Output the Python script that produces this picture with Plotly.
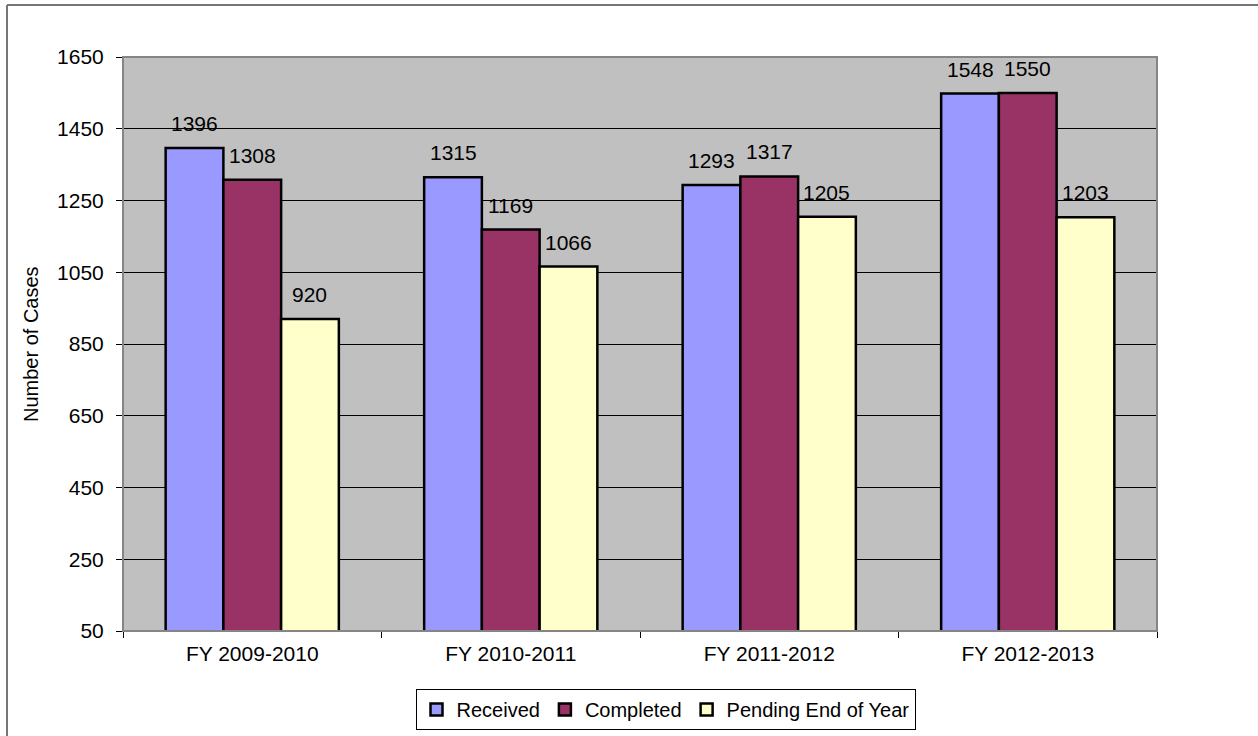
import plotly.graph_objects as go

# Caseload by fiscal year
years = ["FY 2009-2010", "FY 2010-2011", "FY 2011-2012", "FY 2012-2013"]
received = [1396, 1315, 1293, 1548]
completed = [1308, 1169, 1317, 1550]
pending = [920, 1066, 1205, 1203]

series = [
    ("Received", received, "#9999FF"),
    ("Completed", completed, "#993366"),
    ("Pending End of Year", pending, "#FFFFCC"),
]

y_ticks = [50, 250, 450, 650, 850, 1050, 1250, 1450, 1650]

FONT = "Liberation Sans, Arial, sans-serif"
FS = 21

W, H = 1258, 736
L, R, T, B = 123, 101, 57, 105
pw, ph = W - L - R, H - T - B


def px_x(p):
    return (p - L) / pw


def px_y(p):
    return (H - B - p) / ph


fig = go.Figure()
for name, vals, color in series:
    fig.add_trace(go.Bar(
        name=name, x=years, y=vals,
        marker=dict(color=color, line=dict(color="black", width=2.5)),
    ))

# value labels above each bar
bar_px = pw / len(years) * (1 - 0.33) / 3
annotations = []
for k, (name, vals, color) in enumerate(series):
    for cat, v in zip(years, vals):
        annotations.append(dict(
            x=cat, y=v, xref="x", yref="y", text=str(v), showarrow=False,
            xshift=(k - 1) * bar_px, yshift=11, yanchor="bottom",
            font=dict(family=FONT, size=FS, color="black"),
        ))

annotations.append(dict(
    x=px_x(31), y=0.5, xref="paper", yref="paper", text="Number of Cases",
    textangle=-90, showarrow=False, xanchor="center", yanchor="middle",
    font=dict(family=FONT, size=20, color="black"),
))

shapes = [
    # outer frame
    dict(type="line", xref="paper", yref="paper", x0=px_x(7), x1=px_x(7),
         y0=px_y(5), y1=px_y(H + 10), line=dict(color="#767676", width=2)),
    dict(type="line", xref="paper", yref="paper", x0=px_x(7), x1=px_x(W + 10),
         y0=px_y(5), y1=px_y(5), line=dict(color="#767676", width=2)),
    # plot area border
    dict(type="rect", xref="paper", yref="paper", x0=0, x1=1, y0=0, y1=1,
         line=dict(color="#858585", width=2), layer="above"),
]

fig.update_layout(
    width=W, height=H,
    margin=dict(l=L, r=R, t=T, b=B, autoexpand=False),
    paper_bgcolor="white",
    plot_bgcolor="#C0C0C0",
    barmode="group",
    bargap=0.33,
    bargroupgap=0,
    font=dict(family=FONT, size=FS, color="black"),
    showlegend=True,
    legend=dict(
        orientation="h", xref="container", yref="container",
        x=665.5 / W, xanchor="center", y=1 - 689 / H, yanchor="top",
        bordercolor="black", borderwidth=1, bgcolor="white",
        font=dict(family=FONT, size=20, color="black"),
        itemwidth=30, tracegroupgap=0,
    ),
    annotations=annotations,
    shapes=shapes,
    xaxis=dict(
        type="category", showgrid=False, tickson="boundaries",
        ticks="outside", ticklen=6, tickcolor="black", tickwidth=1,
        showline=True, linecolor="black", linewidth=1,
        ticklabelstandoff=4,
        tickfont=dict(family=FONT, size=FS, color="black"),
    ),
    yaxis=dict(
        range=[50, 1650], tickvals=y_ticks, ticktext=[str(v) for v in y_ticks],
        showgrid=True, gridcolor="black", gridwidth=1, zeroline=False,
        ticks="outside", ticklen=6, tickcolor="black", tickwidth=1,
        showline=True, linecolor="black", linewidth=1,
        ticklabelstandoff=8,
        tickfont=dict(family=FONT, size=FS, color="black"),
    ),
)

fig.write_html("out.html")
